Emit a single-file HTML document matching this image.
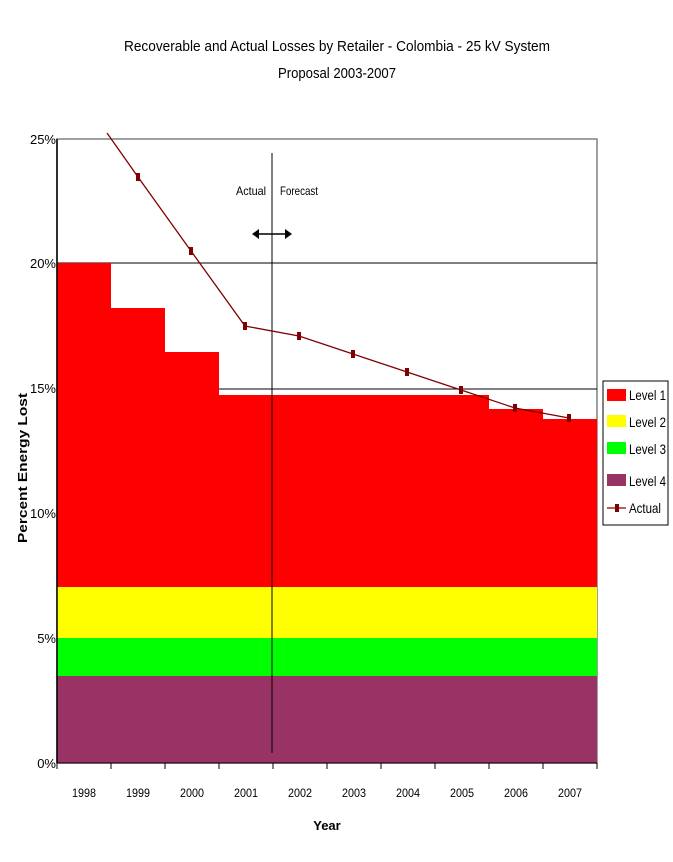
<!DOCTYPE html>
<html><head><style>body{margin:0;background:#fff}svg{display:block}text{font-family:"Liberation Sans",Arial,sans-serif}</style></head><body>
<svg width="673" height="862" viewBox="0 0 673 862" xmlns="http://www.w3.org/2000/svg">
<rect width="673" height="862" fill="#fff"/>
<text x="337" y="51" font-size="15" text-anchor="middle" textLength="426" lengthAdjust="spacingAndGlyphs">Recoverable and Actual Losses by Retailer - Colombia - 25 kV System</text>
<text x="337" y="78" font-size="15" text-anchor="middle" textLength="118" lengthAdjust="spacingAndGlyphs">Proposal 2003-2007</text>
<rect x="57" y="139" width="540" height="624" fill="#fff" stroke="#808080" stroke-width="1.5"/>
<line x1="57" y1="263" x2="597" y2="263" stroke="#000"/>
<line x1="57" y1="389" x2="597" y2="389" stroke="#000"/>
<polygon fill="#ff0000" points="57,263 111,263 111,308 165,308 165,352 219,352 219,395 489,395 489,409 543,409 543,419 597,419 597,763 57,763"/>
<rect x="57" y="587" width="540" height="51" fill="#ffff00"/>
<rect x="57" y="638" width="540" height="38" fill="#00ff00"/>
<rect x="57" y="676" width="540" height="87" fill="#993366"/>
<line x1="57" y1="139" x2="57" y2="763" stroke="#000" stroke-width="1.5"/>
<line x1="57" y1="763" x2="597" y2="763" stroke="#000"/>
<g stroke="#000">
<line x1="57" y1="763" x2="57" y2="769"/><line x1="111" y1="763" x2="111" y2="769"/><line x1="165" y1="763" x2="165" y2="769"/><line x1="219" y1="763" x2="219" y2="769"/><line x1="273" y1="763" x2="273" y2="769"/><line x1="327" y1="763" x2="327" y2="769"/><line x1="381" y1="763" x2="381" y2="769"/><line x1="435" y1="763" x2="435" y2="769"/><line x1="489" y1="763" x2="489" y2="769"/><line x1="543" y1="763" x2="543" y2="769"/><line x1="597" y1="763" x2="597" y2="769"/>
</g>
<line x1="272" y1="153" x2="272" y2="753" stroke="#000"/>
<polyline fill="none" stroke="#800000" stroke-width="1.3" points="107,133 138,177 191,251 245,326 299,336 353,354 407,372 461,390 515,408 569,418"/>
<g fill="#800000">
<rect x="136" y="173" width="4" height="8"/><rect x="189" y="247" width="4" height="8"/><rect x="243" y="322" width="4" height="8"/><rect x="297" y="332" width="4" height="8"/><rect x="351" y="350" width="4" height="8"/><rect x="405" y="368" width="4" height="8"/><rect x="459" y="386" width="4" height="8"/><rect x="513" y="404" width="4" height="8"/><rect x="567" y="414" width="4" height="8"/>
</g>
<text x="236" y="195" font-size="12" textLength="30" lengthAdjust="spacingAndGlyphs">Actual</text>
<text x="280" y="195" font-size="12" textLength="38" lengthAdjust="spacingAndGlyphs">Forecast</text>
<line x1="255" y1="234" x2="290" y2="234" stroke="#000" stroke-width="1.5"/>
<polygon points="252,234 259,229 259,239"/><polygon points="292,234 285,229 285,239"/>
<g font-size="13" text-anchor="end">
<text x="56" y="144">25%</text><text x="56" y="268">20%</text><text x="56" y="393">15%</text><text x="56" y="518">10%</text><text x="56" y="643">5%</text><text x="56" y="768">0%</text>
</g>
<g font-size="12" text-anchor="middle">
<text x="84" y="797" textLength="24" lengthAdjust="spacingAndGlyphs">1998</text><text x="138" y="797" textLength="24" lengthAdjust="spacingAndGlyphs">1999</text><text x="192" y="797" textLength="24" lengthAdjust="spacingAndGlyphs">2000</text><text x="246" y="797" textLength="24" lengthAdjust="spacingAndGlyphs">2001</text><text x="300" y="797" textLength="24" lengthAdjust="spacingAndGlyphs">2002</text><text x="354" y="797" textLength="24" lengthAdjust="spacingAndGlyphs">2003</text><text x="408" y="797" textLength="24" lengthAdjust="spacingAndGlyphs">2004</text><text x="462" y="797" textLength="24" lengthAdjust="spacingAndGlyphs">2005</text><text x="516" y="797" textLength="24" lengthAdjust="spacingAndGlyphs">2006</text><text x="570" y="797" textLength="24" lengthAdjust="spacingAndGlyphs">2007</text>
</g>
<text x="327" y="830" font-size="13" font-weight="bold" text-anchor="middle">Year</text>
<text transform="translate(27,468) rotate(-90)" font-size="13" font-weight="bold" text-anchor="middle" textLength="150" lengthAdjust="spacingAndGlyphs">Percent Energy Lost</text>
<rect x="603" y="381" width="65" height="144" fill="#fff" stroke="#000"/>
<rect x="607" y="389" width="19" height="12" fill="#ff0000"/>
<rect x="607" y="415" width="19" height="12" fill="#ffff00"/>
<rect x="607" y="442" width="19" height="12" fill="#00ff00"/>
<rect x="607" y="474" width="19" height="12" fill="#993366"/>
<line x1="607" y1="508" x2="626" y2="508" stroke="#800000" stroke-width="1.3"/>
<rect x="615" y="504" width="4" height="8" fill="#800000"/>
<g font-size="14">
<text x="629" y="400" textLength="37" lengthAdjust="spacingAndGlyphs">Level 1</text>
<text x="629" y="427" textLength="37" lengthAdjust="spacingAndGlyphs">Level 2</text>
<text x="629" y="454" textLength="37" lengthAdjust="spacingAndGlyphs">Level 3</text>
<text x="629" y="486" textLength="37" lengthAdjust="spacingAndGlyphs">Level 4</text>
<text x="629" y="513" textLength="32" lengthAdjust="spacingAndGlyphs">Actual</text>
</g>
</svg>
</body></html>
